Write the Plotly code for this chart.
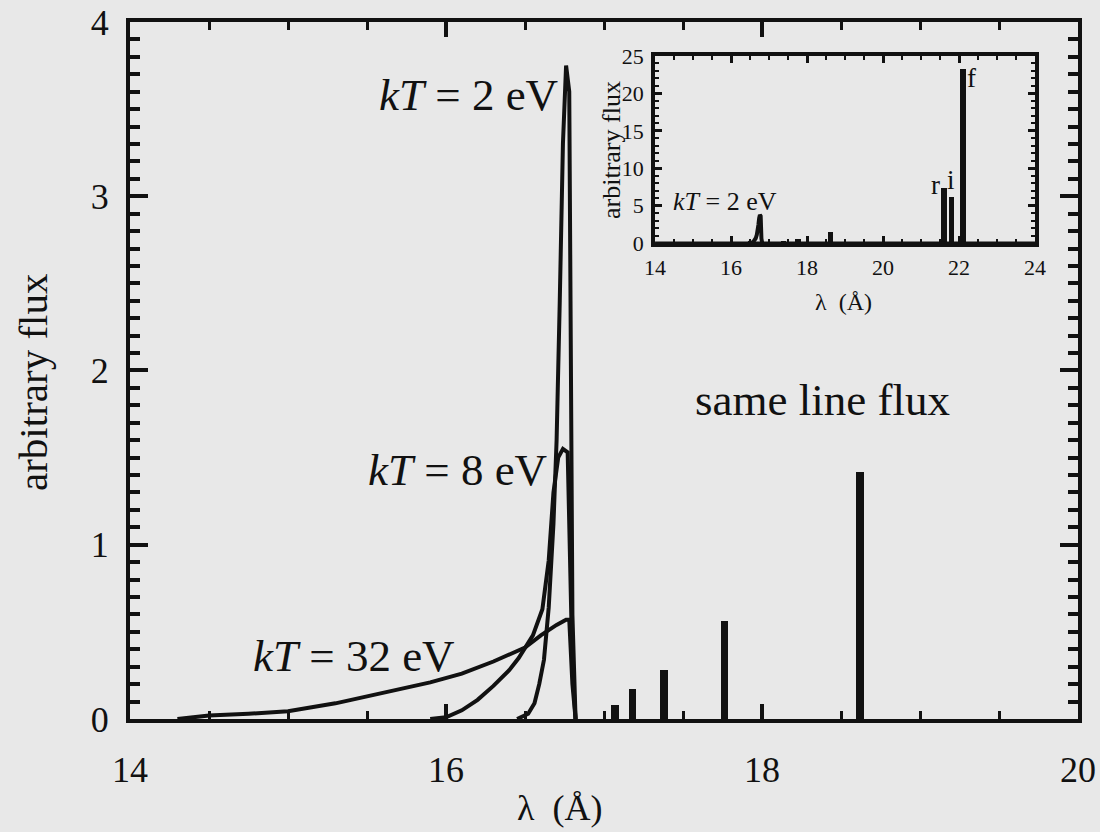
import plotly.graph_objects as go

# --- radiative recombination continua (wavelength in Angstrom, arbitrary flux) ---
rrc_2ev_wl = [16.45, 16.52, 16.56, 16.59, 16.62, 16.65, 16.68, 16.70, 16.72, 16.74, 16.76, 16.78, 16.80, 16.82]
rrc_2ev_flux = [0.00, 0.03, 0.09, 0.20, 0.34, 0.64, 1.12, 1.60, 2.40, 3.30, 3.75, 3.60, 0.60, 0.00]

rrc_8ev_wl = [15.90, 16.00, 16.10, 16.20, 16.30, 16.40, 16.46, 16.50, 16.55, 16.61, 16.65, 16.68, 16.71, 16.74, 16.77, 16.80, 16.82]
rrc_8ev_flux = [0.00, 0.01, 0.05, 0.11, 0.19, 0.28, 0.35, 0.41, 0.48, 0.63, 0.91, 1.30, 1.50, 1.55, 1.53, 0.30, 0.00]

rrc_32ev_wl = [14.30, 14.50, 14.75, 15.00, 15.30, 15.60, 15.90, 16.10, 16.30, 16.50, 16.60, 16.70, 16.76, 16.78, 16.80, 16.82]
rrc_32ev_flux = [0.00, 0.02, 0.03, 0.045, 0.09, 0.15, 0.21, 0.26, 0.33, 0.41, 0.48, 0.54, 0.57, 0.57, 0.20, 0.00]

# --- emission lines (same line flux for every temperature) ---
line_wl = [17.07, 17.18, 17.38, 17.76, 18.62, 21.60, 21.80, 22.10]
line_flux = [0.08, 0.17, 0.28, 0.56, 1.42, 7.3, 6.1, 23.2]

# axis tick values
main_x_ticks = [14, 16, 18, 20]
main_y_ticks = [0, 1, 2, 3, 4]
inset_x_ticks = [14, 16, 18, 20, 22, 24]
inset_y_ticks = [0, 5, 10, 15, 20, 25]

INK = "#111111"
BG = "#e8e8e8"
FONT = "Liberation Serif, Times New Roman, DejaVu Serif, serif"

fig = go.Figure()

curve_style = dict(mode="lines", line=dict(color=INK, width=4), showlegend=False, hoverinfo="skip")
for wl, fl in [(rrc_32ev_wl, rrc_32ev_flux), (rrc_8ev_wl, rrc_8ev_flux), (rrc_2ev_wl, rrc_2ev_flux)]:
    fig.add_trace(go.Scatter(x=wl, y=fl, xaxis="x", yaxis="y", **curve_style))

fig.add_trace(go.Bar(x=line_wl, y=line_flux, width=0.045, marker=dict(color=INK, line=dict(width=0)),
                     xaxis="x", yaxis="y", showlegend=False, hoverinfo="skip"))

# inset: full kT = 2 eV spectrum
fig.add_trace(go.Scatter(x=[14, 24], y=[0, 0], mode="lines", line=dict(color=INK, width=3),
                         xaxis="x2", yaxis="y2", showlegend=False, hoverinfo="skip"))
fig.add_trace(go.Scatter(x=rrc_2ev_wl, y=rrc_2ev_flux, mode="lines", line=dict(color=INK, width=4),
                         xaxis="x2", yaxis="y2", showlegend=False, hoverinfo="skip"))
fig.add_trace(go.Bar(x=line_wl, y=line_flux, width=0.15, marker=dict(color=INK, line=dict(width=0)),
                     xaxis="x2", yaxis="y2", showlegend=False, hoverinfo="skip"))


def axis_common(width, tickfont):
    return dict(showline=True, linecolor=INK, linewidth=width, mirror="allticks",
                ticks="inside", tickcolor=INK, showgrid=False, zeroline=False, automargin=False,
                tickfont=dict(family=FONT, size=tickfont, color=INK), fixedrange=True)


fig.update_layout(
    width=1100, height=832,
    margin=dict(l=0, r=0, t=0, b=0, autoexpand=False),
    paper_bgcolor=BG, plot_bgcolor=BG,
    barmode="overlay", bargap=0,
    font=dict(family=FONT, color=INK),
    xaxis=dict(domain=[0.1182, 0.98], range=[14, 20], anchor="y",
               tickmode="array", tickvals=main_x_ticks, ticktext=[str(v) for v in main_x_ticks],
               ticklen=15, tickwidth=4, ticklabelstandoff=16,
               minor=dict(dtick=0.5, tick0=14, ticklen=8, tickwidth=3, ticks="inside", tickcolor=INK),
               **axis_common(4, 36)),
    yaxis=dict(domain=[0.1358, 0.9736], range=[0, 4], anchor="x",
               tickmode="array", tickvals=main_y_ticks, ticktext=[str(v) for v in main_y_ticks],
               ticklen=18, tickwidth=4, ticklabelstandoff=10,
               minor=dict(dtick=0.1, tick0=0, ticklen=10, tickwidth=4, ticks="inside", tickcolor=INK),
               **axis_common(4, 36)),
    xaxis2=dict(domain=[0.5955, 0.9409], range=[14, 24], anchor="y2",
                tickmode="array", tickvals=inset_x_ticks, ticktext=[str(v) for v in inset_x_ticks],
                ticklen=7, tickwidth=3, ticklabelstandoff=2,
                minor=dict(dtick=0.5, tick0=14, ticklen=4, tickwidth=2, ticks="inside", tickcolor=INK),
                **axis_common(4, 22)),
    yaxis2=dict(domain=[0.7079, 0.9327], range=[0, 25], anchor="x2",
                tickmode="array", tickvals=inset_y_ticks, ticktext=[str(v) for v in inset_y_ticks],
                ticklen=7, tickwidth=3, ticklabelstandoff=3,
                minor=dict(dtick=1, tick0=0, ticklen=4, tickwidth=2, ticks="inside", tickcolor=INK),
                **axis_common(4, 22)),
)

ann = []
def label(text, x, y, size, xref="x", yref="y", xanchor="center", yanchor="middle", angle=0):
    ann.append(dict(text=text, x=x, y=y, xref=xref, yref=yref, xanchor=xanchor, yanchor=yanchor,
                    showarrow=False, textangle=angle, font=dict(family=FONT, size=size, color=INK)))

# main panel labels
label("<i>kT</i> = 2 eV", 16.72, 3.58, 45, xanchor="right")
label("<i>kT</i> = 8 eV", 16.65, 1.43, 45, xanchor="right")
label("<i>kT</i> = 32 eV", 16.07, 0.36, 45, xanchor="right")
label("same line flux", 18.38, 1.83, 45)
label("λ  (Å)", 560 / 1100, 2 / 832, 36, xref="paper", yref="paper", yanchor="bottom")
label("arbitrary flux", 33 / 1100, 1 - 383 / 832, 41, xref="paper", yref="paper", angle=-90)

# inset labels
label("<i>kT</i> = 2 eV", 14.42, 5.5, 26, xref="x2", yref="y2", xanchor="left")
label("r", 21.37, 7.8, 27, xref="x2", yref="y2")
label("i", 21.79, 8.4, 27, xref="x2", yref="y2")
label("f", 22.32, 22.0, 27, xref="x2", yref="y2")
label("λ  (Å)", 843 / 1100, 1 - 302 / 832, 24, xref="paper", yref="paper")
label("arbitrary flux", 611 / 1100, 1 - 150 / 832, 26, xref="paper", yref="paper", angle=-90)

fig.update_layout(annotations=ann)

fig.write_html("out.html")
